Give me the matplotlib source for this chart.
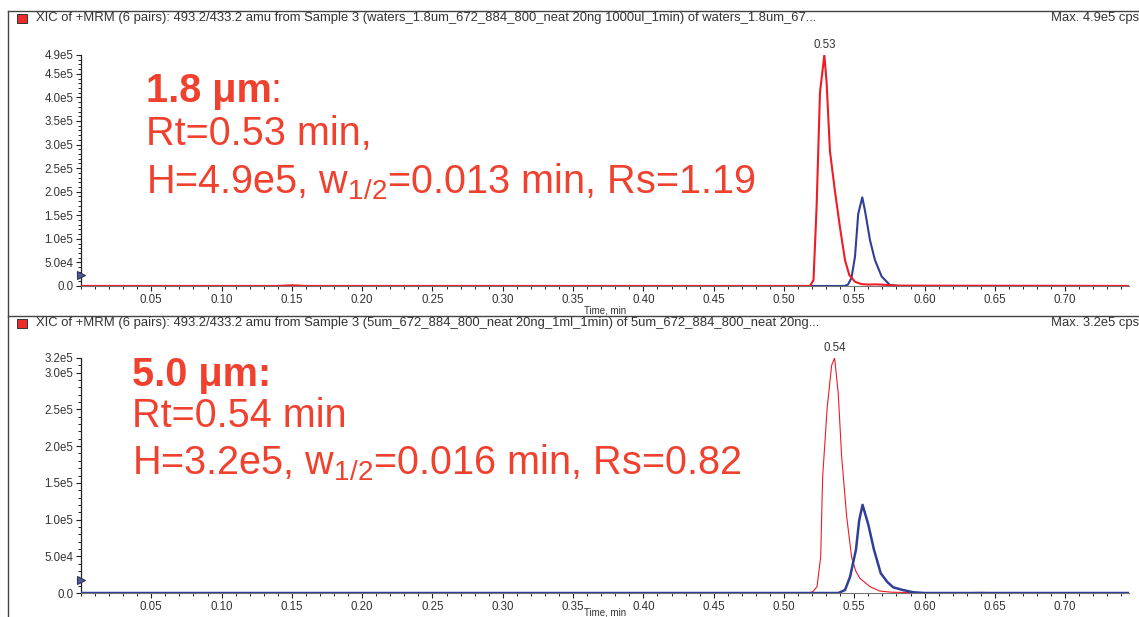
import matplotlib.pyplot as plt
from matplotlib.lines import Line2D
from matplotlib.patches import Rectangle
from matplotlib.ticker import MultipleLocator, FixedLocator

plt.rcParams['font.family'] = ['Liberation Sans', 'DejaVu Sans']

# XIC traces, 1.8 um column (top)
t18_red = [0.0, 0.10, 0.14, 0.15, 0.16, 0.30, 0.45, 0.515, 0.5185, 0.521, 0.5232,
           0.5256, 0.5287, 0.5303, 0.5327, 0.5363, 0.5398, 0.5434, 0.5465, 0.5505,
           0.5552, 0.560, 0.565, 0.572, 0.58, 0.62, 0.70, 0.746]
i18_red = [0, 0, 0, 1500, 0, 0, 0, 0, 0, 1.26e4, 1.67e5,
           4.1e5, 4.9e5, 4.33e5, 2.86e5, 2.0e5, 1.25e5, 5.5e4, 2.3e4, 9e3,
           4e3, 3e3, 3.5e3, 2.5e3, 800, 500, 300, 0]
t18_blue = [0.0, 0.543, 0.5455, 0.548, 0.5505, 0.5528, 0.5557, 0.5576, 0.5612,
            0.5647, 0.5695, 0.5754, 0.582, 0.746]
i18_blue = [0, 0, 3e3, 1.7e4, 6.2e4, 1.53e5, 1.88e5, 1.6e5, 9.7e4,
            5.5e4, 2e4, 2e3, 0, 0]

# XIC traces, 5.0 um column (bottom)
t50_red = [0.0, 0.518, 0.5206, 0.5235, 0.5261, 0.5275, 0.5308, 0.5339, 0.536,
           0.5386, 0.541, 0.5446, 0.5481, 0.551, 0.554, 0.5612, 0.568, 0.577,
           0.60, 0.62, 0.64, 0.66, 0.70, 0.746]
i50_red = [0, 0, 2e3, 8.6e3, 4.9e4, 1.58e5, 2.54e5, 3.1e5, 3.2e5,
           2.72e5, 1.86e5, 1.04e5, 4.9e4, 3.0e4, 2.0e4, 8.6e3, 2.7e3, 1e3,
           500, 300, 800, 200, 300, 0]
t50_blue = [0.0, 0.5386, 0.5434, 0.547, 0.5512, 0.5535, 0.5559, 0.560, 0.564,
            0.5688, 0.5735, 0.5777, 0.5847, 0.592, 0.60, 0.746]
i50_blue = [0, 0, 4e3, 2.2e4, 5.9e4, 9.9e4, 1.2e5, 9.3e4, 5.9e4,
            2.7e4, 1.5e4, 7.7e3, 4e3, 1e3, 0, 0]

peak_times = [0.5287, 0.536]
peak_heights = [4.9e5, 3.2e5]
peak_labels = ['0.53', '0.54']

x_ticks = [0.05, 0.10, 0.15, 0.20, 0.25, 0.30, 0.35, 0.40, 0.45, 0.50, 0.55, 0.60, 0.65, 0.70]
y18_ticks = [0, 5e4, 1e5, 1.5e5, 2e5, 2.5e5, 3e5, 3.5e5, 4e5, 4.5e5, 4.9e5]
y18_labels = ['0.0', '5.0e4', '1.0e5', '1.5e5', '2.0e5', '2.5e5', '3.0e5', '3.5e5', '4.0e5', '4.5e5', '4.9e5']
y50_ticks = [0, 5e4, 1e5, 1.5e5, 2e5, 2.5e5, 3e5, 3.2e5]
y50_labels = ['0.0', '5.0e4', '1.0e5', '1.5e5', '2.0e5', '2.5e5', '3.0e5', '3.2e5']

headers = [
    'XIC of +MRM (6 pairs): 493.2/433.2 amu from Sample 3 (waters_1.8um_672_884_800_neat 20ng 1000ul_1min) of waters_1.8um_67...',
    'XIC of +MRM (6 pairs): 493.2/433.2 amu from Sample 3 (5um_672_884_800_neat 20ng_1ml_1min) of 5um_672_884_800_neat 20ng...',
]
max_labels = ['Max. 4.9e5 cps', 'Max. 3.2e5 cps']
marker_levels = [2.3e4, 1.8e4]

RED = '#ee1c25'
BLUE = '#2f3f98'
TXT_RED = '#f0412f'
GREY = '#333333'

W, H = 1139, 617
fig = plt.figure(figsize=(W / 100, H / 100), dpi=100)


def fx(px):
    return px / W


def fy(py):
    return 1 - py / H


ax1 = fig.add_axes([fx(81), fy(286), fx(1048), 231 / H])
ax2 = fig.add_axes([fx(81), fy(593), fx(1048), 235 / H])

ax1.plot(t18_blue, i18_blue, color=BLUE, lw=1.5, zorder=3)
ax1.plot(t18_red, i18_red, color=RED, lw=1.5, zorder=4)
ax2.plot(t50_red, i50_red, color=RED, lw=0.8, zorder=3)
ax2.plot(t50_blue, i50_blue, color=BLUE, lw=1.8, zorder=4)

for ax, yt, yl, ymax, lvl, lpad in [(ax1, y18_ticks, y18_labels, 4.9e5, marker_levels[0], 0),
                                     (ax2, y50_ticks, y50_labels, 3.2e5, marker_levels[1], -3.5)]:
    ax.set_xlim(0, 0.7454)
    ax.set_ylim(0, ymax)
    for s in ['top', 'right']:
        ax.spines[s].set_visible(False)
    ax.spines['left'].set_color('#222222')
    ax.spines['bottom'].set_color('#777777')
    ax.spines['left'].set_linewidth(0.9)
    ax.xaxis.set_major_locator(FixedLocator(x_ticks))
    ax.set_xticklabels(['%.2f' % v for v in x_ticks])
    ax.xaxis.set_minor_locator(MultipleLocator(0.01))
    ax.set_yticks(yt)
    ax.set_yticklabels(yl)
    ax.yaxis.set_minor_locator(MultipleLocator(1e4))
    ax.tick_params(axis='both', which='major', length=3.5, width=0.8, color='#222222',
                   labelsize=8.3, labelcolor=GREY, pad=2)
    ax.tick_params(axis='both', which='minor', length=2, width=0.7, color='#222222')
    ax.set_xlabel('Time, min', fontsize=7, color=GREY, labelpad=lpad)
    ax.plot([0], [lvl], marker='>', ms=6, mfc='#4a5a9c', mec='#333355', mew=0.8,
            clip_on=False, zorder=5)

for ax, t, h, lab in zip([ax1, ax2], peak_times, peak_heights, peak_labels):
    ax.annotate(lab, (t, h), xytext=(0, 3), textcoords='offset points',
                ha='center', va='bottom', fontsize=8.3, color=GREY, annotation_clip=False)

# panel text blocks
big = 28.5
fig.text(fx(146), fy(102), '1.8 μm', fontsize=big, fontweight='bold', color=TXT_RED)
fig.text(fx(146 + 124), fy(102), ':', fontsize=big, color=TXT_RED)
fig.text(fx(146), fy(145), 'Rt=0.53 min,', fontsize=big, color=TXT_RED)
fig.text(fx(146), fy(193), r'H=4.9e5, $\mathregular{w_{1/2}}$=0.013 min, Rs=1.19',
         fontsize=big, color=TXT_RED)
fig.text(fx(132), fy(386), '5.0 μm:', fontsize=big, fontweight='bold', color=TXT_RED)
fig.text(fx(132), fy(427), 'Rt=0.54 min', fontsize=big, color=TXT_RED)
fig.text(fx(132), fy(474), r'H=3.2e5, $\mathregular{w_{1/2}}$=0.016 min, Rs=0.82',
         fontsize=big, color=TXT_RED)

# second panel header strip hides the clipped axis title above it
fig.add_artist(Rectangle((0, fy(334)), 1, fy(316) - fy(334), transform=fig.transFigure,
                         facecolor='white', edgecolor='none', zorder=2))

# panel frames
for y0 in [11, 316]:
    fig.add_artist(Line2D([fx(8), 1], [fy(y0), fy(y0)], color='#444444', lw=1.0, zorder=3))
fig.add_artist(Line2D([fx(8), fx(8)], [fy(11), 0], color='#444444', lw=1.0, zorder=3))

for y0, head, mx in zip([18, 323], headers, max_labels):
    fig.add_artist(Rectangle((fx(17), fy(y0 + 5)), fx(10), 9 / H, transform=fig.transFigure,
                             facecolor='#ee2a2a', edgecolor='#333333', lw=0.7, zorder=4))
    fig.text(fx(36), fy(y0), head, fontsize=9.4, color=GREY, va='center', zorder=4)
    fig.text(1.0, fy(y0), mx, fontsize=9.4, color=GREY, va='center', ha='right', zorder=4)

fig.savefig('out.png', dpi=100)
